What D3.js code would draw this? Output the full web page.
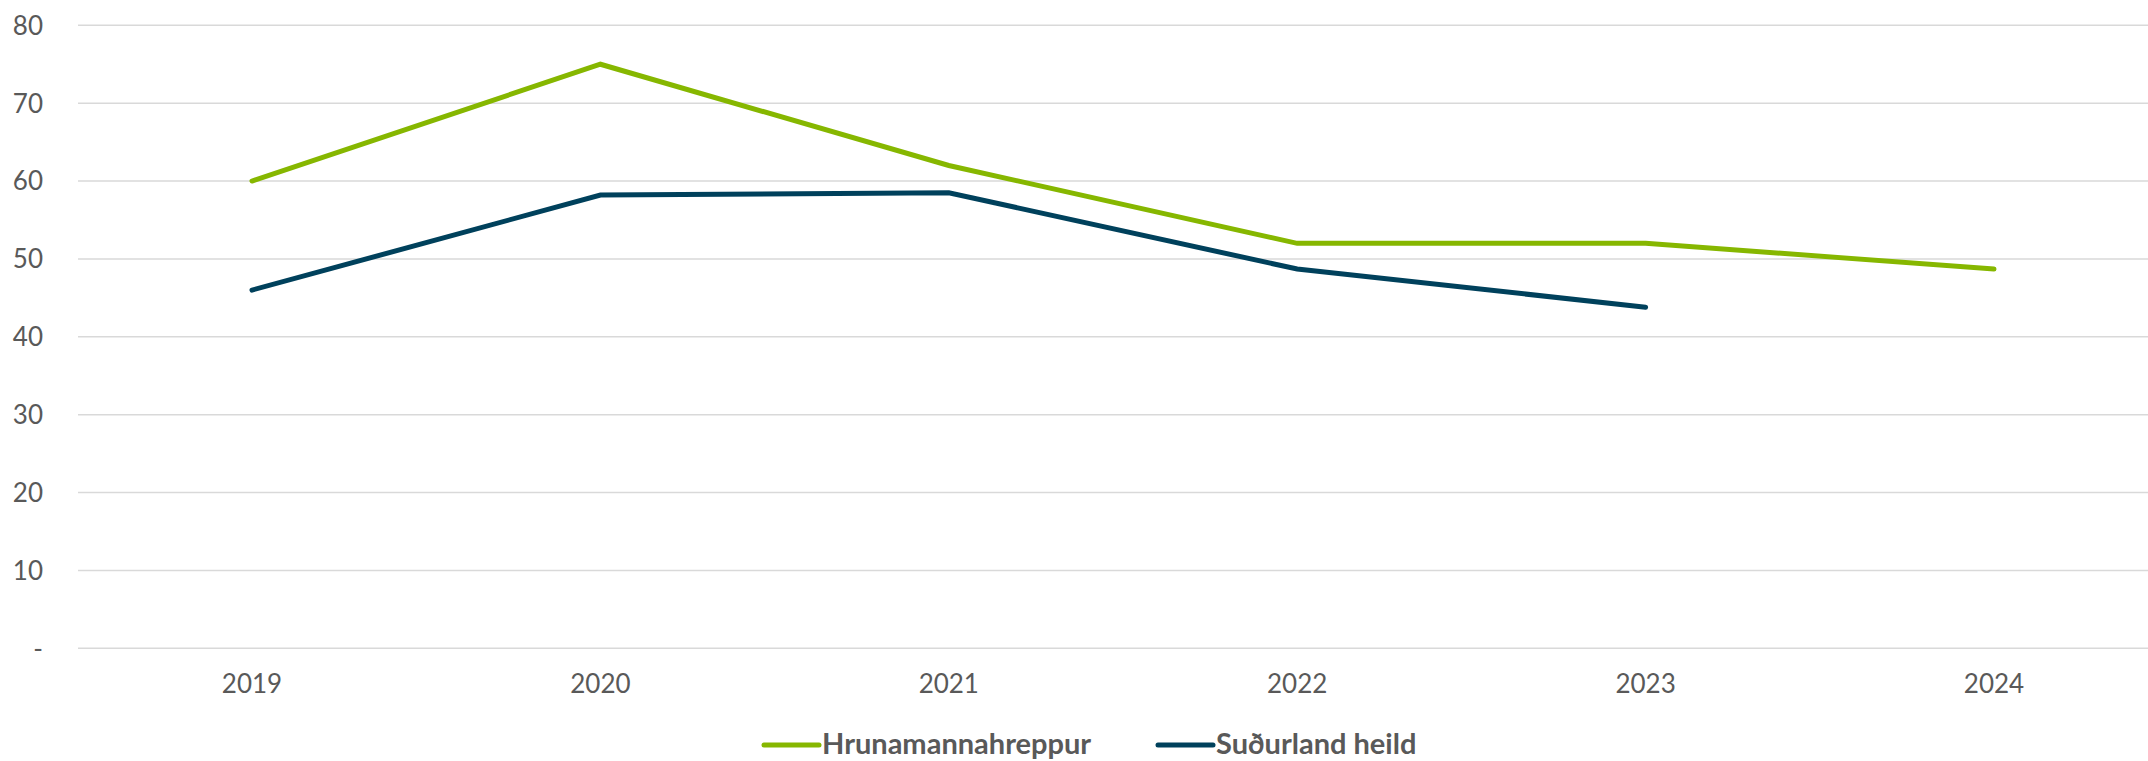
<!DOCTYPE html>
<html>
<head>
<meta charset="utf-8">
<script src="https://cdn.jsdelivr.net/npm/d3@7"></script>
<style>
  html, body { margin: 0; padding: 0; background: #fff; }
  svg { display: block; }
  text { font-family: Lato, "Open Sans", sans-serif; fill: #595959; }
</style>
</head>
<body>
<svg id="chart" width="2148" height="761"></svg>
<script>
// data
const years = ["2019", "2020", "2021", "2022", "2023", "2024"];
const hruna = [60, 75, 62, 52, 52, 48.7];
const sudurland = [46, 58.2, 58.5, 48.7, 43.8, null];
const yTicks = [0, 10, 20, 30, 40, 50, 60, 70, 80];
const seriesNames = ["Hrunamannahreppur", "Suðurland heild"];

const GREEN = "#86b700";
const NAVY = "#00415c";

const svg = d3.select("#chart");
const W = 2148;

const gridLeft = 78;
const x = d3.scalePoint().domain(years).range([252, 1994]);
const y = d3.scaleLinear().domain([0, 80]).range([648.3, 25.3]);

// gridlines
svg.append("g")
    .selectAll("line")
    .data(yTicks)
    .join("line")
    .attr("x1", gridLeft)
    .attr("x2", W)
    .attr("y1", d => y(d))
    .attr("y2", d => y(d))
    .attr("stroke", "#d9d9d9")
    .attr("stroke-width", 1.6);

// y labels
svg.append("g")
    .selectAll("text")
    .data(yTicks)
    .join("text")
    .attr("x", 43)
    .attr("y", d => y(d))
    .attr("dy", "0.36em")
    .attr("text-anchor", "end")
    .style("font-size", "26px")
    .text(d => d === 0 ? "-" : d);

// x labels
svg.append("g")
    .selectAll("text")
    .data(years)
    .join("text")
    .attr("x", d => x(d))
    .attr("y", 693)
    .attr("text-anchor", "middle")
    .style("font-size", "26px")
    .text(d => d);

const line = d3.line()
    .defined(d => d.v != null)
    .x(d => x(d.year))
    .y(d => y(d.v));

function addSeries(vals, color) {
    svg.append("path")
        .datum(years.map((yr, i) => ({year: yr, v: vals[i]})))
        .attr("d", line)
        .attr("fill", "none")
        .attr("stroke", color)
        .attr("stroke-width", 5)
        .attr("stroke-linecap", "round")
        .attr("stroke-linejoin", "miter");
}
addSeries(hruna, GREEN);
addSeries(sudurland, NAVY);

// legend
const legendItems = [
    {name: seriesNames[0], color: GREEN, x: 764},
    {name: seriesNames[1], color: NAVY, x: 1158}
];
const lg = svg.append("g");
legendItems.forEach(it => {
    lg.append("line")
        .attr("x1", it.x)
        .attr("x2", it.x + 55)
        .attr("y1", 745)
        .attr("y2", 745)
        .attr("stroke", it.color)
        .attr("stroke-width", 5)
        .attr("stroke-linecap", "round");
    lg.append("text")
        .attr("x", it.x + 58)
        .attr("y", 744)
        .attr("dy", "0.33em")
        .style("font-size", "29px")
        .style("font-weight", "bold")
        .text(it.name);
});
</script>
</body>
</html>
